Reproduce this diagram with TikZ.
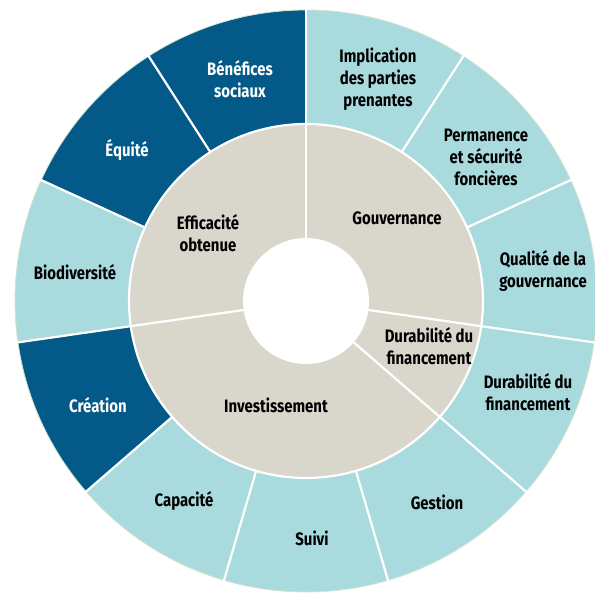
\documentclass[tikz,border=0pt]{standalone}
\usepackage{fontspec}
\setmainfont{Fira Sans}[FakeStretch=0.83]
\definecolor{dblue}{HTML}{035A89}
\definecolor{lteal}{HTML}{A9DADD}
\definecolor{lgray}{HTML}{D9D6CC}
\definecolor{rimc}{HTML}{D5E3CF}
\newcommand\annseg[5]{%
  \fill[#5] (#1:#3) arc[start angle=#1, end angle=#2, radius=#3]
    -- (#2:#4) arc[start angle=#2, end angle=#1, radius=#4] -- cycle;}
\tikzset{
  lbl/.style={align=center, text=black, inner sep=0pt,
    font=\bfseries\fontsize{18}{22}\selectfont},
  wlbl/.style={lbl, text=white},
  sep/.style={draw=white, line width=2.2pt}
}
\begin{document}
\begin{tikzpicture}[x=1pt,y=1pt]
\useasboundingbox (0,0) rectangle (595,-593);
\clip (0,0) rectangle (595,-593);
\begin{scope}[shift={(306,-301)}]
  % outer ring
  \fill[lteal] (0,0) circle[radius=291];
  \annseg{-139.091}{-171.818}{291}{177}{dblue}
  \annseg{-204.545}{-237.273}{291}{177}{dblue}
  \annseg{-237.273}{-270}{291}{177}{dblue}
  \draw[rimc, line width=0.8pt] (0,0) circle[radius=291];
  % inner ring
  \fill[lgray] (0,0) circle[radius=177];
  \fill[white] (0,0) circle[radius=63];
  % separators
  \draw[sep] (0,0) circle[radius=177];
  \foreach \a in {57.273,24.545,-73.636,-106.364,-139.091,-204.545,-237.273}
    \draw[sep] (\a:177) -- (\a:292);
  \foreach \a in {90,-8.182,-40.909,-171.818}
    \draw[sep] (\a:63) -- (\a:292);
\end{scope}
% labels
\node[wlbl] (ben) at (240,-79) {Bénéfices\\sociaux};
\node[wlbl] (equ) at (127,-150) {Équité};
\node[lbl] (bio) at (75,-272) {Biodiversité};
\node[lbl] (eff) at (208,-233) {Efficacité\\obtenue};
\node[lbl] (imp) at (378,-79) {Implication\\des parties\\prenantes};
\node[lbl] (perm) at (486,-157) {Permanence\\et sécurité\\foncières};
\node[lbl] (gouv) at (397,-218) {Gouvernance};
\node[lbl] (qual) at (543,-271) {Qualité de la\\gouvernance};
\node[lbl] (durin) at (429,-346) {Durabilité du\\financement};
\node[lbl] (durout) at (528,-392) {Durabilité du\\financement};
\node[lbl] (inv) at (276,-405) {Investissement};
\node[wlbl] (crea) at (98,-405) {Création};
\node[lbl] (cap) at (184,-501) {Capacité};
\node[lbl] (suivi) at (312,-538) {Suivi};
\node[lbl] (gest) at (437,-502) {Gestion};
\end{tikzpicture}
\end{document}
